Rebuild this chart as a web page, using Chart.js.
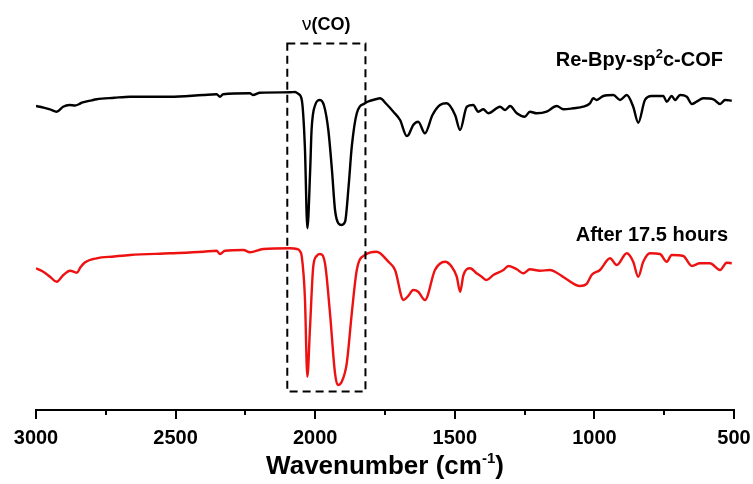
<!DOCTYPE html>
<html>
<head>
<meta charset="utf-8">
<script src="https://cdn.jsdelivr.net/npm/chart.js@4/dist/chart.umd.min.js"></script>
<style>
  html, body { margin: 0; padding: 0; background: #fff; }
  #ir { display: block; }
</style>
</head>
<body>
<canvas id="ir" width="753" height="484"></canvas>
<script>
// FT-IR spectra (offset, arbitrary transmittance units)
const FONT = '"Liberation Sans", Arial, sans-serif';

const freshWavenumber = [3000, 2975, 2950, 2926, 2903, 2880, 2860, 2845, 2836, 2800, 2783, 2720, 2663, 2520, 2402, 2353, 2341, 2330, 2234, 2223, 2198, 2090, 2072, 2060, 2048, 2037, 2028, 2018, 2013, 2000, 1983, 1968, 1953, 1940, 1929, 1917, 1905, 1893, 1880, 1869, 1851, 1822, 1800, 1780, 1768, 1745, 1720, 1696, 1672, 1666, 1649, 1631, 1607, 1580, 1553, 1529, 1499, 1481, 1457, 1434, 1416, 1398, 1380, 1338, 1320, 1302, 1278, 1249, 1231, 1207, 1171, 1135, 1111, 1076, 1040, 1016, 1004, 992, 968, 932, 908, 884, 861, 843, 819, 795, 753, 741, 723, 711, 693, 669, 651, 634, 610, 574, 550, 532, 508];
const freshSignal = [304, 302.5, 300.7, 298.3, 303.3, 305, 304.5, 306, 307.3, 309.7, 310.7, 312.2, 313.3, 313.3, 315, 315.7, 313.3, 315.7, 316.7, 315, 317.3, 317.7, 318, 316, 310, 263.3, 181.7, 240, 280, 305, 310, 304, 280, 240, 200, 186.7, 185, 188.3, 225, 263.3, 296.7, 306.7, 309.5, 311, 311.7, 306, 298.3, 290, 274, 275, 285, 288.3, 276.7, 295, 305, 306.7, 295, 280, 303.3, 305, 298.3, 300.7, 296.7, 303.3, 300, 304, 296.7, 293.3, 298.3, 296.7, 298.3, 304, 300.7, 301.7, 303.3, 306.7, 311.7, 310, 314, 315, 310, 315, 303.3, 287.3, 310, 314, 314, 308.3, 314, 310, 315, 313.3, 306, 308.3, 311.7, 310.7, 306, 310, 309.3];

const usedWavenumber = [3000, 2974, 2950, 2926, 2902, 2878, 2854, 2840, 2824, 2783, 2720, 2663, 2520, 2401, 2353, 2341, 2323, 2257, 2234, 2186, 2090, 2066, 2055, 2048, 2037, 2028, 2019, 2007, 1995, 1983, 1965, 1947, 1929, 1919, 1905, 1887, 1869, 1851, 1822, 1780, 1738, 1714, 1684, 1667, 1649, 1631, 1607, 1571, 1535, 1511, 1493, 1481, 1469, 1445, 1422, 1404, 1386, 1362, 1326, 1308, 1278, 1255, 1231, 1195, 1159, 1135, 1099, 1052, 1028, 1010, 980, 944, 920, 884, 861, 843, 825, 801, 765, 741, 723, 682, 651, 622, 586, 550, 526, 508];
const usedSignal = [141.7, 138.3, 133.3, 128.3, 135, 139.3, 137.3, 143, 147.7, 151.7, 153.5, 155, 156.7, 158.3, 159.3, 156, 159.3, 160, 157.7, 161, 161.7, 161, 159, 153.3, 113.3, 33.3, 80, 143.3, 154, 156, 146.7, 96.7, 36.7, 25, 28.3, 46.7, 96.7, 140, 155, 158.3, 148.3, 140, 110, 114, 120, 118.3, 110, 140, 148.3, 143.3, 133.3, 118.3, 135, 141.7, 136.7, 133.3, 130, 135, 140, 144, 140.7, 136.7, 140.7, 139.3, 140, 137.3, 130.7, 124, 126, 135, 140, 151.7, 145, 156.7, 148.3, 133.3, 148.3, 156.7, 156, 148.3, 155, 154, 144, 146.7, 146.7, 140, 147.3, 146.7];

const xTickValues = [3000, 2500, 2000, 1500, 1000, 500];
const xMinorTicks = [2750, 2250, 1750, 1250, 750];
const seriesNames = ['Re-Bpy-sp2c-COF', 'After 17.5 hours'];
const seriesColors = ['#000000', '#ee1111'];

const toPoints = (xs, ys) => xs.map((x, i) => ({ x, y: ys[i] }));

// Carbonyl stretching window (wavenumber span) and its vertical extent
const coBand = { from: 2100, to: 1820, low: 18.5, high: 366.5 };

const decorations = {
  id: 'decorations',
  afterDraw(chart) {
    const { ctx, chartArea, scales: { x, y } } = chart;
    ctx.save();

    // minor ticks below the axis
    ctx.strokeStyle = '#000';
    ctx.lineWidth = 2;
    xMinorTicks.forEach(v => {
      const px = Math.round(x.getPixelForValue(v));
      ctx.beginPath();
      ctx.moveTo(px, chartArea.bottom);
      ctx.lineTo(px, chartArea.bottom + 5);
      ctx.stroke();
    });

    // dashed box around the ν(CO) bands
    const l = x.getPixelForValue(coBand.from), r = x.getPixelForValue(coBand.to);
    const t = y.getPixelForValue(coBand.high), b = y.getPixelForValue(coBand.low);
    ctx.setLineDash([8, 5]);
    ctx.lineWidth = 2;
    ctx.strokeRect(l, t, r - l, b - t);
    ctx.setLineDash([]);

    ctx.fillStyle = '#000';
    ctx.textBaseline = 'alphabetic';

    // draws a run of [text, font, rise] parts, anchored by alignment
    const runs = (parts, px, py, align) => {
      const widths = parts.map(p => { ctx.font = p[1]; return ctx.measureText(p[0]).width; });
      const total = widths.reduce((a, b) => a + b, 0);
      let cx = align === 'right' ? px - total : align === 'center' ? px - total / 2 : px;
      ctx.textAlign = 'left';
      parts.forEach((p, i) => {
        ctx.font = p[1];
        ctx.fillText(p[0], cx, py - (p[2] || 0));
        cx += widths[i];
      });
    };

    // band label above the box
    runs([['ν', `19px ${FONT}`], ['(CO)', `bold 18px ${FONT}`]], (l + r) / 2, 30, 'center');

    // series labels
    runs([['Re-Bpy-sp', `bold 20px ${FONT}`], ['2', `bold 13px ${FONT}`, 8], ['c-COF', `bold 20px ${FONT}`]],
      723, 66, 'right');
    runs([['After 17.5 hours', `bold 20px ${FONT}`]], 728, 241, 'right');

    // axis title
    runs([['Wavenumber (cm', `bold 26px ${FONT}`], ['-1', `bold 15px ${FONT}`, 11], [')', `bold 26px ${FONT}`]],
      (chartArea.left + chartArea.right) / 2, 474, 'center');

    ctx.restore();
  }
};

new Chart(document.getElementById('ir'), {
  type: 'line',
  data: {
    datasets: [
      { label: seriesNames[0], data: toPoints(freshWavenumber, freshSignal), borderColor: seriesColors[0] },
      { label: seriesNames[1], data: toPoints(usedWavenumber, usedSignal), borderColor: seriesColors[1] }
    ].map(d => Object.assign(d, {
      borderWidth: 2.4, pointRadius: 0, fill: false,
      cubicInterpolationMode: 'monotone'
    }))
  },
  options: {
    responsive: false,
    animation: false,
    devicePixelRatio: 1,
    layout: { padding: { left: 36, right: 19, top: 0, bottom: 0 } },
    plugins: { legend: { display: false }, tooltip: { enabled: false } },
    scales: {
      x: {
        type: 'linear', reverse: true, min: 500, max: 3000,
        afterBuildTicks: s => { s.ticks = xTickValues.map(v => ({ value: v })); },
        afterFit: s => { s.height = 74; s.paddingLeft = 0; s.paddingRight = 0; },
        border: { display: true, color: '#000', width: 2 },
        grid: { drawOnChartArea: false, drawTicks: true, tickLength: 9, color: '#000', lineWidth: 2 },
        ticks: {
          color: '#000', padding: 7, maxRotation: 0, autoSkip: false,
          callback: v => String(v),
          font: { family: FONT, size: 20, weight: 'bold' }
        },
        title: { display: false }
      },
      y: { display: false, min: 0, max: 410 }
    }
  },
  plugins: [decorations]
});
</script>
</body>
</html>
